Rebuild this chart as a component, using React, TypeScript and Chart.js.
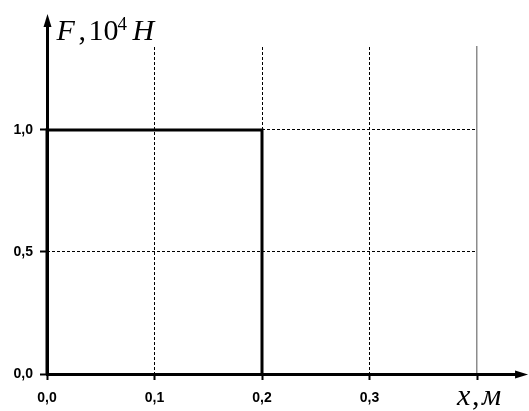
import React, { useEffect, useRef } from 'react';
import { Chart, registerables } from 'chart.js';

Chart.register(...registerables);

// Data: force F (10^4 H) versus displacement x (m)
const displacement = [0, 0, 0.2, 0.2];
const force = [0, 1, 1, 0];

// Axis ticks
const xTickValues = [0, 0.1, 0.2, 0.3, 0.4];
const xTickLabels = ['0,0', '0,1', '0,2', '0,3', ''];
const yTickValues = [0, 0.5, 1.0];
const yTickLabels = ['0,0', '0,5', '1,0'];

// Axis ranges (value units)
const xMin = 0;
const xMax = 0.4;
const yMin = 0;
const yMax = 1.34;
const xArrowEnd = 0.4475;
const yArrowEnd = 1.475;

const SERIF = '"Liberation Serif", "Times New Roman", serif';
const SANS = '"Liberation Sans", Arial, sans-serif';

const axesPlugin = {
  id: 'axesArrows',
  afterDraw(chart: any) {
    const { ctx, scales } = chart;
    const x = scales.x;
    const y = scales.y;
    const ox = Math.round(x.getPixelForValue(0)) + 0.5;
    const oy = Math.round(y.getPixelForValue(0)) + 0.5;
    const xe = x.getPixelForValue(xArrowEnd);
    const ye = y.getPixelForValue(yArrowEnd);

    ctx.save();
    ctx.strokeStyle = '#000';
    ctx.fillStyle = '#000';
    ctx.lineWidth = 3;
    ctx.lineCap = 'butt';
    // y axis
    ctx.beginPath();
    ctx.moveTo(ox, oy + 1.5);
    ctx.lineTo(ox, ye + 10);
    ctx.stroke();
    ctx.beginPath();
    ctx.moveTo(ox, ye);
    ctx.lineTo(ox - 4, ye + 13);
    ctx.lineTo(ox + 4, ye + 13);
    ctx.closePath();
    ctx.fill();
    // x axis
    ctx.beginPath();
    ctx.moveTo(ox - 1.5, oy);
    ctx.lineTo(xe - 10, oy);
    ctx.stroke();
    ctx.beginPath();
    ctx.moveTo(xe, oy);
    ctx.lineTo(xe - 13, oy - 4);
    ctx.lineTo(xe - 13, oy + 4);
    ctx.closePath();
    ctx.fill();

    // axis titles
    ctx.textBaseline = 'alphabetic';
    ctx.textAlign = 'left';
    const tx = ox;
    const ty = 40;
    ctx.font = `italic 30px ${SERIF}`;
    ctx.fillText('F', tx + 9, ty);
    ctx.font = `30px ${SERIF}`;
    ctx.fillText(',', tx + 31, ty);
    ctx.fillText('10', tx + 41, ty);
    ctx.font = `19px ${SERIF}`;
    ctx.fillText('4', tx + 70, ty - 10);
    ctx.font = `italic 30px ${SERIF}`;
    ctx.fillText('H', tx + 85, ty);

    const bx = x.getPixelForValue(0.4) - 20;
    const by = 405;
    ctx.font = `italic 30px ${SERIF}`;
    ctx.fillText('x', bx, by);
    ctx.font = `30px ${SERIF}`;
    ctx.fillText(',', bx + 15, by);
    ctx.font = `italic 30px ${SERIF}`;
    ctx.fillText('м', bx + 25, by);
    ctx.restore();
  },
};

export default function App() {
  const canvasRef = useRef<HTMLCanvasElement | null>(null);

  useEffect(() => {
    if (!canvasRef.current) return;
    const chart = new Chart(canvasRef.current, {
      type: 'line',
      data: {
        datasets: [
          {
            data: displacement.map((d, i) => ({ x: d, y: force[i] })),
            borderColor: '#000',
            borderWidth: 3,
            pointRadius: 0,
            tension: 0,
            fill: false,
            clip: false as any,
          },
        ],
      },
      options: {
        animation: false,
        responsive: false,
        devicePixelRatio: 1,
        events: [],
        layout: { padding: { top: 47, right: 52, left: 0, bottom: 0 } },
        plugins: {
          legend: { display: false },
          tooltip: { enabled: false },
          title: { display: false },
        },
        scales: {
          x: {
            type: 'linear',
            min: xMin,
            max: xMax,
            afterBuildTicks: (s: any) => {
              s.ticks = xTickValues.map((v) => ({ value: v }));
            },
            afterFit: (s: any) => {
              s.height = 37;
            },
            ticks: {
              callback: (_v: any, i: number) => xTickLabels[i],
              color: '#000',
              font: { family: SANS, size: 14, weight: 'bold' },
              padding: 10,
              maxRotation: 0,
              autoSkip: false,
            },
            grid: {
              color: (c: any) =>
                c.tick && c.tick.value > 0.001 && c.tick.value < 0.399 ? '#000' : 'rgba(0,0,0,0)',
              lineWidth: 1,
              drawTicks: true,
              tickLength: 6,
              tickColor: '#000',
              tickWidth: 2,
            },
            border: { display: false, dash: [3, 2] },
          },
          y: {
            type: 'linear',
            min: yMin,
            max: yMax,
            afterBuildTicks: (s: any) => {
              s.ticks = yTickValues.map((v) => ({ value: v }));
            },
            afterFit: (s: any) => {
              s.width = 47;
            },
            ticks: {
              callback: (_v: any, i: number) => yTickLabels[i],
              color: '#000',
              font: { family: SANS, size: 14, weight: 'bold' },
              padding: 7,
              autoSkip: false,
            },
            grid: {
              color: (c: any) => (c.tick && c.tick.value > 0.001 ? '#000' : 'rgba(0,0,0,0)'),
              lineWidth: 1,
              drawTicks: true,
              tickLength: 7,
              tickColor: '#000',
              tickWidth: 2,
            },
            border: { display: false, dash: [3, 2] },
          },
          y2: {
            type: 'linear',
            position: 'right',
            min: yMin,
            max: yMax,
            afterFit: (s: any) => {
              s.width = 0;
            },
            ticks: { display: false },
            grid: { display: false, drawTicks: false },
            border: { display: true, color: '#8c8c8c', width: 1.5 },
          },
        },
      },
      plugins: [axesPlugin],
    });
    return () => chart.destroy();
  }, []);

  return (
    <div style={{ position: 'absolute', left: 0, top: 0, width: 529, height: 411, background: '#fff' }}>
      <canvas ref={canvasRef} width={529} height={411} style={{ display: 'block' }} />
    </div>
  );
}
